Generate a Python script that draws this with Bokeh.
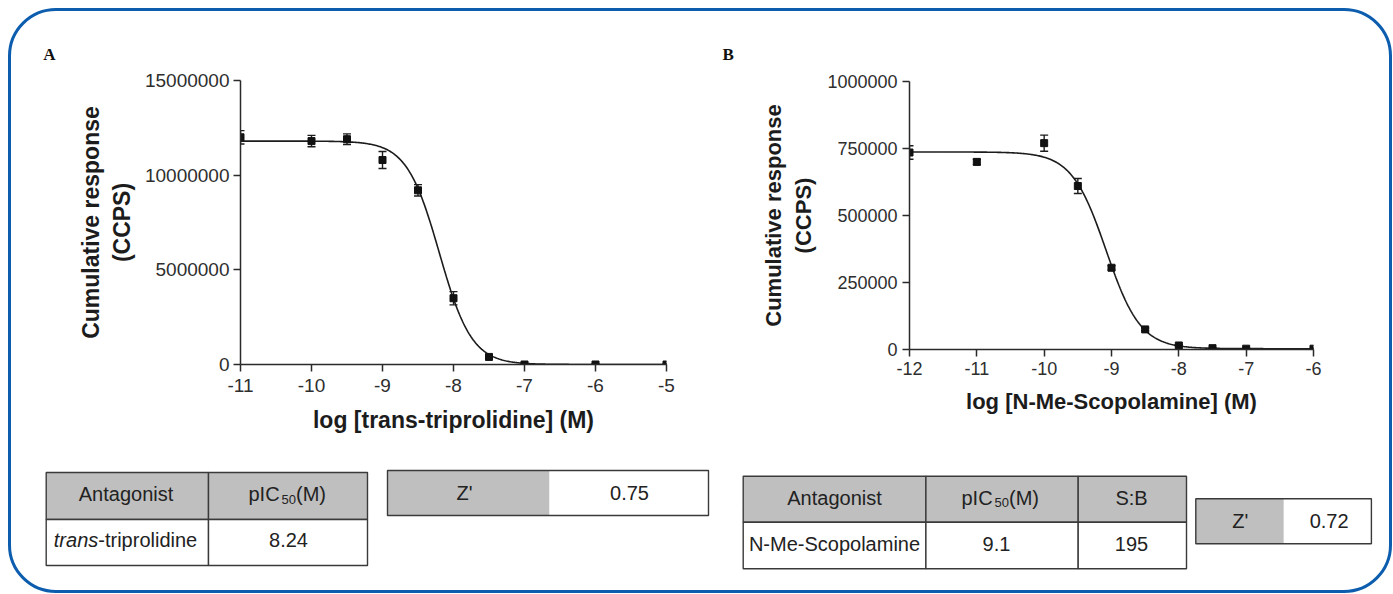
import numpy as np
from bokeh.plotting import figure
from bokeh.models import Range1d, FixedTicker, NumeralTickFormatter
from bokeh.layouts import column, row
from bokeh.embed import file_html
from bokeh.resources import INLINE
from bokeh.core.properties import value

# ---------------- data ----------------
panel_letters = ["A", "B"]

a_logc = [-11, -10, -9.5, -9, -8.5, -8, -7.5, -7, -6, -5]
a_resp = [12000000, 11800000, 11900000, 10800000, 9200000, 3500000, 400000, 0, 0, 0]
a_sem = [350000, 300000, 280000, 450000, 300000, 350000, 100000, 40000, 40000, 40000]
a_fit = {"top": 11800000, "bottom": 0, "log_ic50": -8.2, "hill": 1.9}
a_xticks = [-11, -10, -9, -8, -7, -6, -5]
a_yticks = [0, 5000000, 10000000, 15000000]
a_xlabel = "log [trans-triprolidine] (M)"

b_logc = [-12, -11, -10, -9.5, -9, -8.5, -8, -7.5, -7, -6]
b_resp = [735000, 700000, 770000, 610000, 305000, 75000, 15000, 5000, 3000, 3000]
b_sem = [25000, 10000, 30000, 28000, 8000, 5000, 3000, 2000, 2000, 2000]
b_fit = {"top": 737000, "bottom": 3000, "log_ic50": -9.08, "hill": 1.7}
b_xticks = [-12, -11, -10, -9, -8, -7, -6]
b_yticks = [0, 250000, 500000, 750000, 1000000]
b_xlabel = "log [N-Me-Scopolamine] (M)"

ylabel = "Cumulative response\n(CCPS)"

table_a_header = ["Antagonist", "pIC50(M)"]
table_a_row = ["trans-triprolidine", "8.24"]
z_a = ["Z'", "0.75"]
table_b_header = ["Antagonist", "pIC50(M)", "S:B"]
table_b_row = ["N-Me-Scopolamine", "9.1", "195"]
z_b = ["Z'", "0.72"]

# ---------------- style ----------------
FONT = "Liberation Sans"
INK = "#1c1c1c"
AXIS = "#2a2a2a"
GRAY = "#bfbfbf"
BLUE = "#0c5dae"
TEXT_SHIFT = -8  # text glyphs sit this much lower than the requested baseline

# page-pixel layout (root placed at 8,8 with a 3px border -> content at 11,11)
OX, OY = 11, 11
TOTAL_W = 1378
STRIP_H = 57
PLOT_H = 383
TAB_H = 139
SPLIT_X = 720


def style_axes(p, tick_size, label_size):
    for ax in (p.xaxis[0], p.yaxis[0]):
        ax.axis_line_color = AXIS
        ax.axis_line_width = 1.5
        ax.major_tick_line_color = AXIS
        ax.major_tick_line_width = 1.5
        ax.major_tick_out = 7
        ax.major_tick_in = 0
        ax.minor_tick_line_color = None
        ax.major_label_text_font = FONT
        ax.major_label_text_font_size = tick_size
        ax.major_label_text_color = "#2e2e2e"
        ax.axis_label_text_font = FONT
        ax.axis_label_text_font_style = "bold"
        ax.axis_label_text_font_size = label_size
        ax.axis_label_text_color = INK


def panel(xs, ys, err, fit, xticks, yticks, xlabel, fig_x0, fig_w, frame,
          tick_size, label_size, x_standoff, y_standoff, xl_standoff, yl_standoff):
    fig_y0 = OY + STRIP_H
    fl, fr, ft, fb = frame
    x0, x1 = xticks[0], xticks[-1]
    y0, y1 = yticks[0], yticks[-1]
    p = figure(width=fig_w, height=PLOT_H, x_range=Range1d(x0, x1), y_range=Range1d(y0, y1),
               output_backend="svg", toolbar_location=None, title=None,
               min_border_left=fl - fig_x0, min_border_right=fig_x0 + fig_w - fr,
               min_border_top=ft - fig_y0, min_border_bottom=fig_y0 + PLOT_H - fb)
    if "frame_align" in p.properties():
        p.frame_align = False
    p.border_fill_color = None
    p.background_fill_color = None
    p.outline_line_color = None
    p.grid.visible = False
    style_axes(p, tick_size, label_size)
    p.xaxis.ticker = FixedTicker(ticks=xticks)
    p.yaxis.ticker = FixedTicker(ticks=yticks)
    p.xaxis.formatter = NumeralTickFormatter(format="0")
    p.yaxis.formatter = NumeralTickFormatter(format="0")
    p.xaxis.axis_label = xlabel
    p.yaxis.axis_label = ylabel
    p.xaxis.major_label_standoff = x_standoff
    p.yaxis.major_label_standoff = y_standoff
    p.xaxis.axis_label_standoff = xl_standoff
    p.yaxis.axis_label_standoff = yl_standoff

    # fitted four-parameter logistic curve
    xx = np.linspace(x0, x1, 400)
    yy = fit["bottom"] + (fit["top"] - fit["bottom"]) / (1 + 10 ** ((xx - fit["log_ic50"]) * fit["hill"]))
    p.line(xx, yy, line_color=INK, line_width=1.6)

    xs = np.array(xs, dtype=float)
    ys = np.array(ys, dtype=float)
    err = np.array(err, dtype=float)
    p.segment(xs, ys - err, xs, ys + err, line_color=INK, line_width=1.4)
    p.scatter(xs, ys + err, marker="dash", size=8, line_color=INK, line_width=1.4)
    p.scatter(xs, ys - err, marker="dash", size=8, line_color=INK, line_width=1.4)
    p.scatter(xs, ys, marker="square", size=7, fill_color="#111111", line_color="#111111")
    return p


def canvas(y0, h):
    p = figure(width=TOTAL_W, height=h, x_range=Range1d(OX, OX + TOTAL_W),
               y_range=Range1d(y0 + h, y0), x_axis_type=None, y_axis_type=None,
               output_backend="svg", toolbar_location=None, title=None,
               min_border_left=0, min_border_right=0, min_border_top=0, min_border_bottom=0)
    if "frame_align" in p.properties():
        p.frame_align = False
    p.border_fill_color = None
    p.background_fill_color = None
    p.outline_line_color = None
    return p


# ---------------- panel letters strip ----------------
strip = canvas(OY, STRIP_H)
strip.text(x=[42.7, 722], y=[61.7 + TEXT_SHIFT, 61.7 + TEXT_SHIFT], text=panel_letters,
           text_font=value("Liberation Serif"), text_font_style="bold",
           text_font_size="17px", text_align="left", text_baseline="alphabetic",
           text_color="#111111")

# ---------------- plots ----------------
fig_a = panel(a_logc, a_resp, a_sem, a_fit, a_xticks, a_yticks, a_xlabel,
              fig_x0=OX, fig_w=SPLIT_X - OX, frame=(240, 666, 80, 364),
              tick_size="19px", label_size="23px",
              x_standoff=7, y_standoff=4, xl_standoff=12, yl_standoff=7)
fig_b = panel(b_logc, b_resp, b_sem, b_fit, b_xticks, b_yticks, b_xlabel,
              fig_x0=SPLIT_X, fig_w=OX + TOTAL_W - SPLIT_X, frame=(909, 1313, 81, 349),
              tick_size="18px", label_size="22px",
              x_standoff=5, y_standoff=5, xl_standoff=11, yl_standoff=8)

# ---------------- tables ----------------
tab = canvas(OY + STRIP_H + PLOT_H, TAB_H)
LINE = "#3a3a3a"
TXT = dict(text_font=value(FONT), text_font_size="20px", text_baseline="alphabetic",
           text_color="#222222")


def grid_table(cols, rows, fills):
    for r in range(len(rows) - 1):
        tab.quad(left=cols[:-1], right=cols[1:], top=[rows[r]] * (len(cols) - 1),
                 bottom=[rows[r + 1]] * (len(cols) - 1), fill_color=fills[r],
                 line_color=LINE, line_width=1.4)


def put(x, base, text, align="center", **kw):
    opts = dict(TXT)
    opts.update(kw)
    tab.text(x=x, y=[base + TEXT_SHIFT] * len(x), text=text, text_align=align, **opts)


def z_table(cols, rows, labels, centers, base):
    tab.quad(left=[cols[0]], right=[cols[1]], top=[rows[0]], bottom=[rows[1]],
             fill_color=GRAY, line_color=None)
    tab.quad(left=[cols[1]], right=[cols[2]], top=[rows[0]], bottom=[rows[1]],
             fill_color="white", line_color=None)
    tab.quad(left=[cols[0]], right=[cols[2]], top=[rows[0]], bottom=[rows[1]],
             fill_color=None, line_color=LINE, line_width=1.4)
    put(centers, base, labels)


def pic50(cx, base):
    head, tail = "pIC", "(M)"
    widths = [33.0, 14.5, 28.5]
    x = cx - sum(widths) / 2
    put([x], base, [head], align="left")
    put([x + widths[0]], base + 5, ["50"], align="left", text_font_size="13px")
    put([x + widths[0] + widths[1]], base, [tail], align="left")


def header_cells(labels, centers, base):
    for lab, cx in zip(labels, centers):
        if lab == "pIC50(M)":
            pic50(cx, base)
        else:
            put([cx], base, [lab])


# table A
grid_table([45.7, 208, 367], [472, 519, 565], [GRAY, "white"])
header_cells(table_a_header, [125.5, 286], 501.7)
prefix, rest = table_a_row[0].split("-", 1)
put([53.3], 547.3, [prefix], align="left", text_font_style="italic")
put([53.3 + 44.5], 547.3, ["-" + rest], align="left")
put([288], 547.3, [table_a_row[1]])
z_table([387, 549, 708], [470, 515], z_a, [464, 629], 500)

# table B
grid_table([742.7, 925.4, 1077.7, 1186], [475.7, 521.7, 568.3], [GRAY, "white"])
header_cells(table_b_header, [834, 999, 1131], 505)
put([834, 996, 1131], 551.7, table_b_row)
z_table([1195.3, 1283.3, 1370.9], [498.3, 543.3], z_b, [1239.7, 1328.6], 528.3)

root = column(strip, row(fig_a, fig_b), tab,
              styles={"border": "3px solid " + BLUE, "border-radius": "48px",
                      "margin-left": "8px", "margin-top": "8px"})

open("out.html", "w").write(file_html(root, INLINE))
